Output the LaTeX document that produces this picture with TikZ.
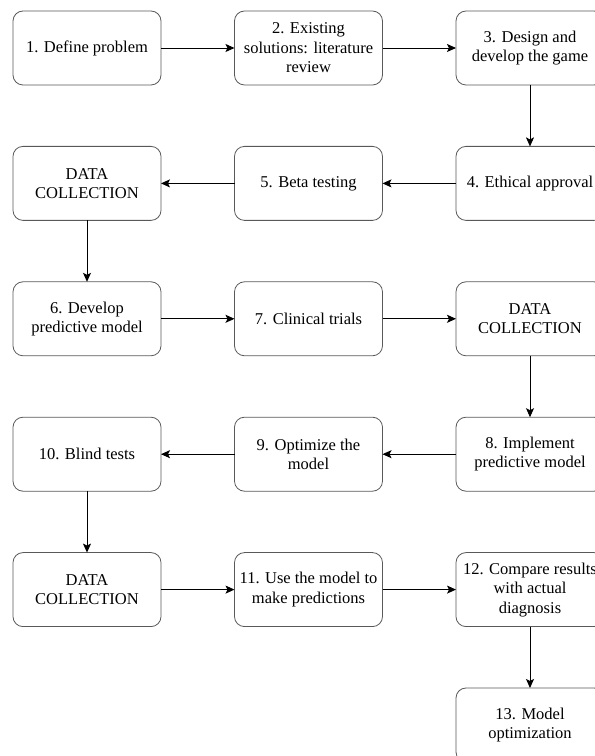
\documentclass[tikz,border=0pt]{standalone}
\usepackage{fontspec}
\setmainfont{Liberation Serif}
\usetikzlibrary{positioning,arrows.meta}

\begin{document}
\begin{tikzpicture}[x=1pt, y=1pt,
    stage/.style={draw=black!65, line width=0.8pt, rounded corners=10pt,
      minimum width=148pt, minimum height=74pt, align=center, inner sep=2pt,
      outer sep=0pt, font=\fontsize{16.5}{19.5}\selectfont},
    flow/.style={-{Stealth[length=9pt, width=8pt, inset=2pt]}, line width=0.9pt},
    node distance=61.4pt and 73.5pt]
  \useasboundingbox (0,0) rectangle (595,756);
  \clip (0,0) rectangle (595,756);

  % row 1
  \node[stage] (define) at (87,708) {1. Define problem};
  \node[stage, right=of define] (review) {2. Existing\\solutions: literature\\review};
  \node[stage, right=of review] (design) {3. Design and\\develop the game};
  % row 2
  \node[stage, below=of design] (ethics) {4. Ethical approval};
  \node[stage, left=of ethics] (beta) {5. Beta testing};
  \node[stage, left=of beta] (dataA) {DATA\\COLLECTION};
  % row 3
  \node[stage, below=of dataA] (develop) {6. Develop\\predictive model};
  \node[stage, right=of develop] (trials) {7. Clinical trials};
  \node[stage, right=of trials] (dataB) {DATA\\COLLECTION};
  % row 4
  \node[stage, below=of dataB] (implement) {8. Implement\\predictive model};
  \node[stage, left=of implement] (optimize) {9. Optimize the\\model};
  \node[stage, left=of optimize] (blind) {10. Blind tests};
  % row 5
  \node[stage, below=of blind] (dataC) {DATA\\COLLECTION};
  \node[stage, right=of dataC] (predict) {11. Use the model to\\make predictions};
  \node[stage, right=of predict] (compare) {12. Compare results\\with actual\\diagnosis};
  % row 6
  \node[stage, below=of compare] (final) {13. Model\\optimization};

  \draw[flow] (define) -- (review);
  \draw[flow] (review) -- (design);
  \draw[flow] (design) -- (ethics);
  \draw[flow] (ethics) -- (beta);
  \draw[flow] (beta) -- (dataA);
  \draw[flow] (dataA) -- (develop);
  \draw[flow] (develop) -- (trials);
  \draw[flow] (trials) -- (dataB);
  \draw[flow] (dataB) -- (implement);
  \draw[flow] (implement) -- (optimize);
  \draw[flow] (optimize) -- (blind);
  \draw[flow] (blind) -- (dataC);
  \draw[flow] (dataC) -- (predict);
  \draw[flow] (predict) -- (compare);
  \draw[flow] (compare) -- (final);
\end{tikzpicture}
\end{document}
